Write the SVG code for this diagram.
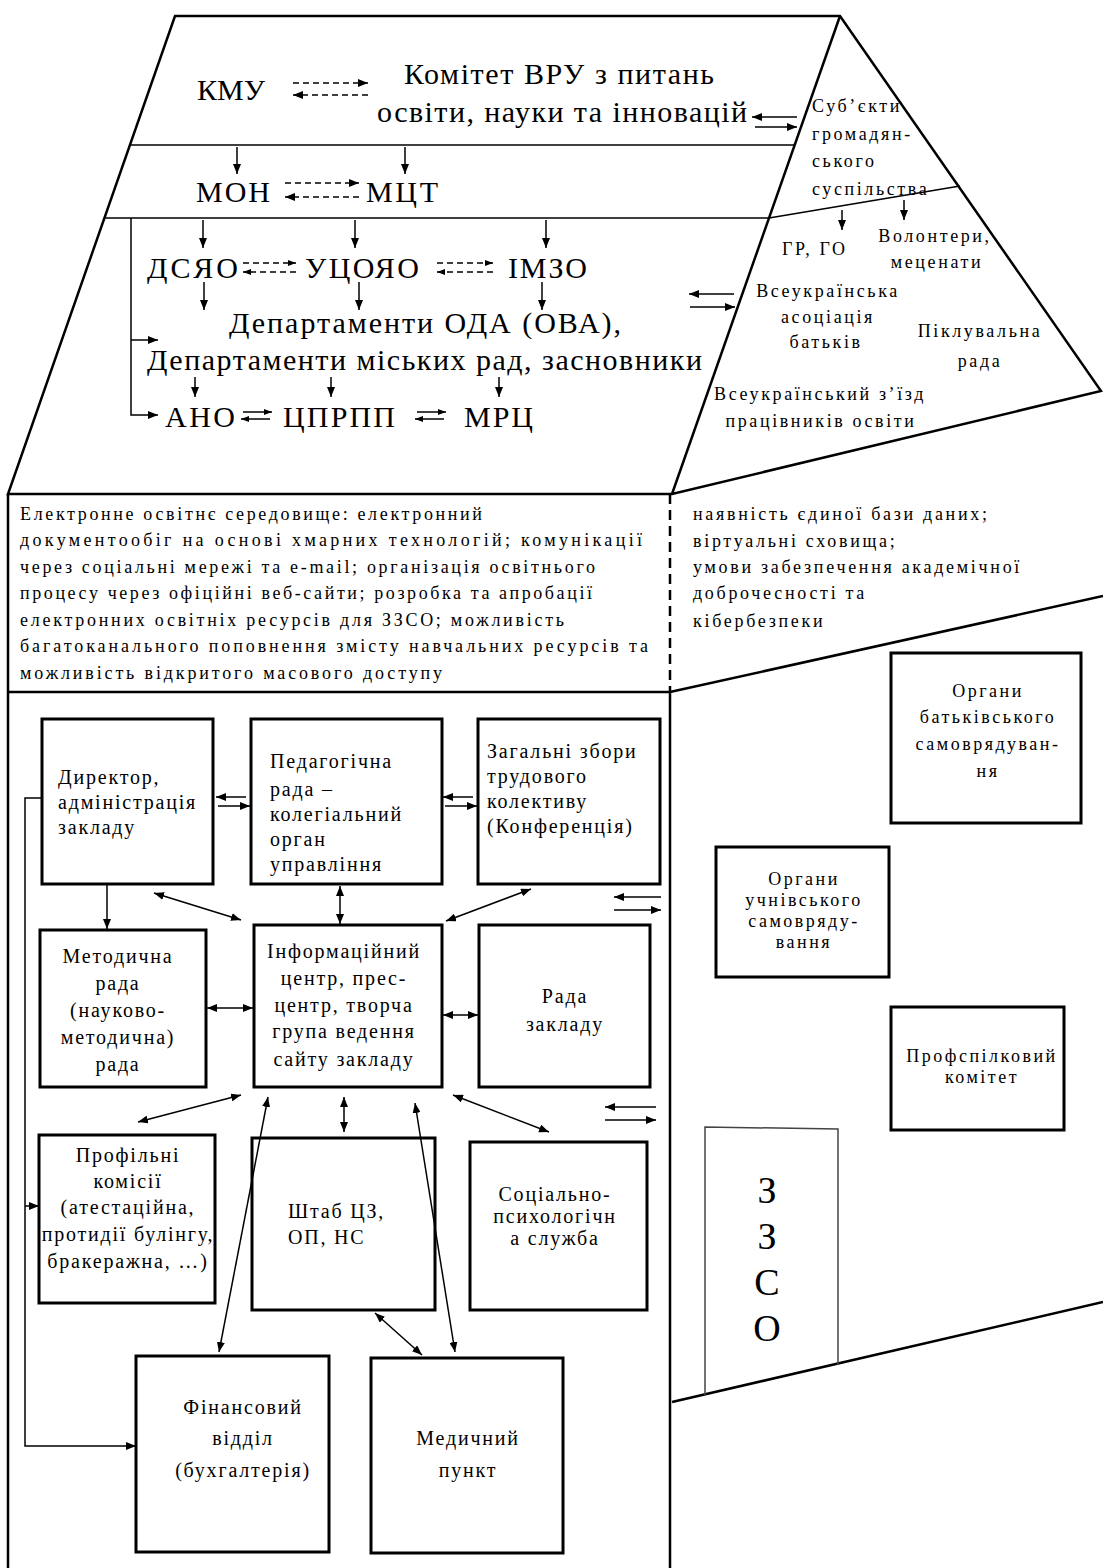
<svg xmlns="http://www.w3.org/2000/svg" width="1103" height="1568" viewBox="0 0 1103 1568" font-family="'Liberation Serif', 'Times New Roman', serif">
<defs>
<marker id="a" viewBox="0 0 10 8" refX="10" refY="4" markerWidth="10" markerHeight="8" markerUnits="userSpaceOnUse" orient="auto-start-reverse"><path d="M0,0L10,4L0,8z" fill="#000"/></marker>
<marker id="s" viewBox="0 0 8 6" refX="8" refY="3" markerWidth="8" markerHeight="6" markerUnits="userSpaceOnUse" orient="auto-start-reverse"><path d="M0,0L8,3L0,6z" fill="#000"/></marker>
</defs>
<style>
.o{fill:none;stroke:#000;stroke-width:2.5}
.b{fill:#fff;stroke:#000;stroke-width:3}
.c{fill:none;stroke:#000;stroke-width:1.5}
.ca{marker-end:url(#a)}
.cd{marker-start:url(#a);marker-end:url(#a)}
.sa{marker-end:url(#s)}
.d{stroke-dasharray:6 4}
text{font-family:"Liberation Serif","Times New Roman",serif;fill:#000}
.big{font-size:30px}
.tri{font-size:18px;letter-spacing:2.6px}
.band{font-size:18px}
.bx{font-size:20px;letter-spacing:1.8px}
.rw{font-size:18px;letter-spacing:2.5px}
.m{text-anchor:middle}
</style>
<rect width="1103" height="1568" fill="#fff"/>

<g id="house">
<path class="o" d="M175,16H840L1101,391L672,494H8L175,16Z"/>
<path class="o" d="M840,16L672,494"/>
<path class="c" stroke-width="2" d="M130,145H795M104,218H769"/>
<path class="c" d="M769,218L960,186"/>
<path class="o" d="M8,494V1568M8,692H670M670,692V1568M670,692L1103,596"/>
<path class="o" stroke-dasharray="10 6" d="M670,494V692"/>
<path class="o" d="M672,1402L1103,1302"/>
</g>

<g id="roof-texts">
<text class="big" x="197" y="100" textLength="68" lengthAdjust="spacing">КМУ</text>
<text class="big" x="404" y="84" textLength="310" lengthAdjust="spacing">Комітет ВРУ з питань</text>
<text class="big" x="377" y="122" textLength="370" lengthAdjust="spacing">освіти, науки та інновацій</text>
<text class="big" x="196" y="202" textLength="74" lengthAdjust="spacing">МОН</text>
<text class="big" x="366" y="202" textLength="72" lengthAdjust="spacing">МЦТ</text>
<text class="big" x="147" y="278" textLength="91" lengthAdjust="spacing">ДСЯО</text>
<text class="big" x="305" y="278" textLength="114" lengthAdjust="spacing">УЦОЯО</text>
<text class="big" x="508" y="278" textLength="79" lengthAdjust="spacing">ІМЗО</text>
<text class="big" x="229" y="333" textLength="392" lengthAdjust="spacing">Департаменти ОДА (ОВА),</text>
<text class="big" x="147" y="370" textLength="555" lengthAdjust="spacing">Департаменти міських рад, засновники</text>
<text class="big" x="165" y="427" textLength="70" lengthAdjust="spacing">АНО</text>
<text class="big" x="283" y="427" textLength="112" lengthAdjust="spacing">ЦПРПП</text>
<text class="big" x="464" y="427" textLength="69" lengthAdjust="spacing">МРЦ</text>
</g>

<g id="civil-society">
<text class="tri" x="812" y="112">Суб’єкти</text>
<text class="tri" x="812" y="140">громадян-</text>
<text class="tri" x="812" y="167">ського</text>
<text class="tri" x="812" y="195">суспільства</text>
<text class="tri" x="782" y="255">ГР, ГО</text>
<text class="tri m" x="935" y="242">Волонтери,</text>
<text class="tri m" x="937" y="268">меценати</text>
<text class="tri m" x="828" y="297">Всеукраїнська</text>
<text class="tri m" x="828" y="323">асоціація</text>
<text class="tri m" x="826" y="348">батьків</text>
<text class="tri m" x="980" y="337">Піклувальна</text>
<text class="tri m" x="980" y="367">рада</text>
<text class="tri m" x="820" y="400">Всеукраїнський з’їзд</text>
<text class="tri m" x="821" y="427">працівників освіти</text>
</g>

<g id="band">
<text class="band" x="20" y="520" textLength="462" lengthAdjust="spacing">Електронне освітнє середовище: електронний</text>
<text class="band" x="20" y="546" textLength="622" lengthAdjust="spacing">документообіг на основі хмарних технологій; комунікації</text>
<text class="band" x="20" y="573" textLength="575" lengthAdjust="spacing">через соціальні мережі та e-mail; організація освітнього</text>
<text class="band" x="20" y="599" textLength="572" lengthAdjust="spacing">процесу через офіційні веб-сайти; розробка та апробації</text>
<text class="band" x="20" y="626" textLength="544" lengthAdjust="spacing">електронних освітніх ресурсів для ЗЗСО; можливість</text>
<text class="band" x="20" y="652" textLength="628" lengthAdjust="spacing">багатоканального поповнення змісту навчальних ресурсів та</text>
<text class="band" x="20" y="679" textLength="422" lengthAdjust="spacing">можливість відкритого масового доступу</text>
<text class="band" x="693" y="520" letter-spacing="2.7">наявність єдиної бази даних;</text>
<text class="band" x="693" y="547" letter-spacing="2.7">віртуальні сховища;</text>
<text class="band" x="693" y="573" letter-spacing="2.7">умови забезпечення академічної</text>
<text class="band" x="693" y="599" letter-spacing="2.7">доброчесності та</text>
<text class="band" x="693" y="627" letter-spacing="2.7">кібербезпеки</text>
</g>

<g id="director"><rect class="b" x="42" y="719" width="171" height="165"/>
<text class="bx" x="58" y="784">Директор,</text><text class="bx" x="58" y="809">адміністрація</text><text class="bx" x="58" y="834">закладу</text></g>
<g id="pedrada"><rect class="b" x="251" y="719" width="191" height="165"/>
<text class="bx" x="270" y="768">Педагогічна</text><text class="bx" x="270" y="796">рада –</text><text class="bx" x="270" y="821">колегіальний</text><text class="bx" x="270" y="846">орган</text><text class="bx" x="270" y="871">управління</text></g>
<g id="zbory"><rect class="b" x="478" y="719" width="182" height="165"/>
<text class="bx" x="487" y="758">Загальні збори</text><text class="bx" x="487" y="783">трудового</text><text class="bx" x="487" y="808">колективу</text><text class="bx" x="487" y="833">(Конференція)</text></g>
<g id="metod"><rect class="b" x="40" y="930" width="166" height="157"/>
<text class="bx m" x="118" y="963">Методична</text><text class="bx m" x="118" y="990">рада</text><text class="bx m" x="118" y="1017">(науково-</text><text class="bx m" x="118" y="1044">методична)</text><text class="bx m" x="118" y="1071">рада</text></g>
<g id="info"><rect class="b" x="254" y="925" width="188" height="162"/>
<text class="bx m" x="344" y="958">Інформаційний</text><text class="bx m" x="344" y="985">центр, прес-</text><text class="bx m" x="344" y="1012">центр, творча</text><text class="bx m" x="344" y="1038">група ведення</text><text class="bx m" x="344" y="1066">сайту закладу</text></g>
<g id="rada"><rect class="b" x="479" y="925" width="171" height="162"/>
<text class="bx m" x="565" y="1003">Рада</text><text class="bx m" x="565" y="1031">закладу</text></g>
<g id="profil"><rect class="b" x="39" y="1135" width="176" height="168"/>
<text class="bx m" x="128" y="1162">Профільні</text><text class="bx m" x="128" y="1188">комісії</text><text class="bx m" x="128" y="1214">(атестаційна,</text><text class="bx m" x="128" y="1241">протидії булінгу,</text><text class="bx m" x="128" y="1268">бракеражна, …)</text></g>
<g id="shtab"><rect class="b" x="252" y="1138" width="183" height="172"/>
<text class="bx" x="288" y="1218" font-size="22">Штаб ЦЗ,</text><text class="bx" x="288" y="1244" font-size="22">ОП, НС</text></g>
<g id="social"><rect class="b" x="470" y="1142" width="177" height="168"/>
<text class="bx m" x="555" y="1201">Соціально-</text><text class="bx m" x="555" y="1223">психологічн</text><text class="bx m" x="555" y="1245">а служба</text></g>
<g id="finance"><rect class="b" x="136" y="1356" width="193" height="196"/>
<text class="bx m" x="243" y="1414">Фінансовий</text><text class="bx m" x="243" y="1445">відділ</text><text class="bx m" x="243" y="1477">(бухгалтерія)</text></g>
<g id="medical"><rect class="b" x="371" y="1358" width="192" height="195"/>
<text class="bx m" x="468" y="1445">Медичний</text><text class="bx m" x="468" y="1477">пункт</text></g>

<g id="parents"><rect class="b" x="891" y="653" width="190" height="170"/>
<text class="rw m" x="988" y="697">Органи</text><text class="rw m" x="988" y="723">батьківського</text><text class="rw m" x="988" y="750">самоврядуван-</text><text class="rw m" x="988" y="777">ня</text></g>
<g id="pupils"><rect class="b" x="716" y="847" width="173" height="130"/>
<text class="rw m" x="804" y="885">Органи</text><text class="rw m" x="804" y="906">учнівського</text><text class="rw m" x="804" y="927">самовряду-</text><text class="rw m" x="804" y="948">вання</text></g>
<g id="union"><rect class="b" x="891" y="1007" width="173" height="123"/>
<text class="rw m" x="982" y="1062">Профспілковий</text><text class="rw m" x="982" y="1083">комітет</text></g>
<g id="door"><path d="M705,1395V1127L838,1129V1365" fill="none" stroke="#444" stroke-width="1.5"/>
<text class="m" x="767" y="1203" font-size="38">З</text><text class="m" x="767" y="1249" font-size="38">З</text><text class="m" x="767" y="1295" font-size="38">С</text><text class="m" x="767" y="1341" font-size="38">О</text></g>

<g id="connectors">
<path class="c d ca" d="M293,83H368"/><path class="c d ca" d="M368,95H293"/>
<path class="c ca" d="M797,117H752"/><path class="c ca" d="M755,127H797"/>
<path class="c ca" d="M237,147V174"/><path class="c ca" d="M405,147V174"/>
<path class="c d ca" d="M285,183H359"/><path class="c d ca" d="M359,197H285"/>
<path class="c ca" d="M203,220V248"/><path class="c ca" d="M355,220V248"/><path class="c ca" d="M546,220V248"/>
<path class="c d sa" d="M243,263H296"/><path class="c d sa" d="M296,272H243"/>
<path class="c d sa" d="M437,263H493"/><path class="c d sa" d="M493,272H437"/>
<path class="c ca" d="M204,282V310"/><path class="c ca" d="M359,282V310"/><path class="c ca" d="M542,282V310"/>
<path class="c ca" d="M131,218V415H158"/><path class="c ca" d="M131,340H158"/>
<path class="c ca" d="M195,377V397"/><path class="c ca" d="M331,377V397"/><path class="c ca" d="M499,377V397"/>
<path class="c sa" d="M243,412H272"/><path class="c sa" d="M270,419H241"/>
<path class="c sa" d="M417,412H446"/><path class="c sa" d="M444,419H415"/>
<path class="c ca" d="M734,294H689"/><path class="c ca" d="M690,307H735"/>
<path class="c ca" d="M842,210V230"/><path class="c ca" d="M904,200V220"/>

<path class="c ca" d="M42,798H25V1446H136"/><path class="c ca" d="M25,1206H39"/>
<path class="c ca" d="M107,884V929"/>
<path class="c ca" d="M246,797H216"/><path class="c ca" d="M218,806H250"/>
<path class="c ca" d="M473,797H443"/><path class="c ca" d="M445,806H477"/>
<path class="c cd" d="M154,893L241,920"/>
<path class="c cd" d="M340,886V924"/>
<path class="c cd" d="M531,889L446,921"/>
<path class="c ca" d="M661,897H614"/><path class="c ca" d="M614,910H661"/>
<path class="c cd" d="M207,1008H253"/>
<path class="c cd" d="M443,1015H478"/>
<path class="c ca" d="M656,1107H605"/><path class="c ca" d="M605,1120H656"/>
<path class="c cd" d="M241,1095L138,1122"/>
<path class="c cd" d="M344,1097V1132"/>
<path class="c cd" d="M453,1095L549,1132"/>
<path class="c cd" d="M268,1097L219,1352"/>
<path class="c cd" d="M415,1103L455,1352"/>
<path class="c cd" d="M375,1313L422,1355"/>
</g>
</svg>
